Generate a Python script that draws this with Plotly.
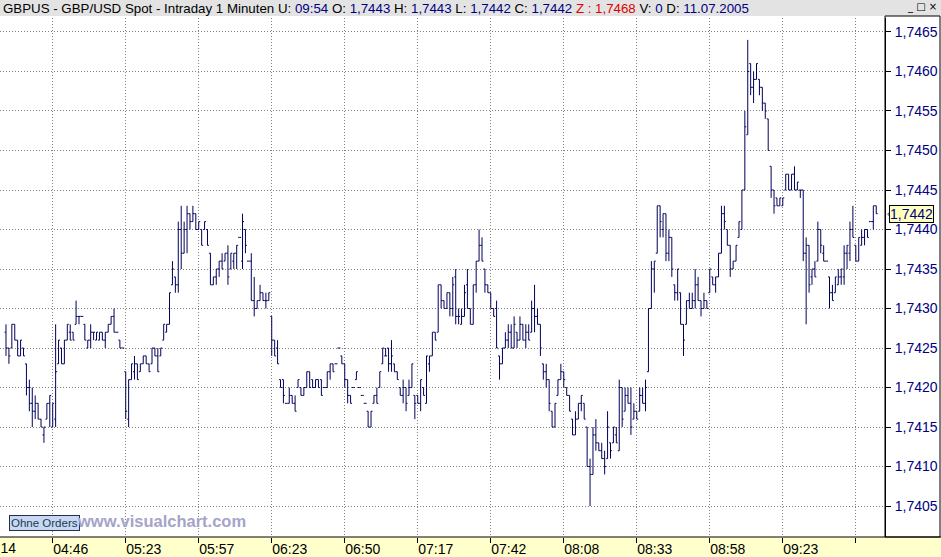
import plotly.graph_objects as go

# GBP/USD 1-minute bars, values read as pips above 1.7400
BASE = 1.7400

high_pips = [
    28, 25, 28, 28, 26, 26, 25, 23, 21, 20, 19, 18, 16, 15, 18, 19,
    18, 28, 26, 25, 26, 28, 28, 27, 31, 29, 29, 28, 26, 28, 27, 27, 27, 27, 27, 28, 29, 30, 27, 26, 25,
    22, 21, 23, 24, 23, 23, 24, 24, 23, 25, 25, 25, 25, 28, 28, 32, 36, 34, 41, 43, 41, 43, 42, 43, 42,
    41, 40, 41, 40, 37, 34, 35, 36, 37, 37, 38, 37, 37, 38, 39, 42, 40, 36, 37, 34, 31, 33, 32, 32, 32,
    29, 26, 26, 21, 21, 18, 20, 19, 19, 21, 20, 20, 22, 22, 21, 21, 21, 21, 20, 22, 23, 23, 23, 25, 24,
    23, 21, 19, 20, 22, 20, 19, 18, 17, 17, 19, 20, 22, 25, 25, 25, 26, 23, 22, 20, 21, 20, 21, 23, 19,
    19, 21, 20, 24, 24, 27, 27, 33, 33, 31, 32, 32, 34, 35, 30, 30, 33, 35, 30, 33, 36, 40, 39, 35, 33,
    32, 30, 31, 24, 25, 27, 28, 28, 29, 27, 29, 28, 28, 28, 31, 33, 30, 28, 23, 23, 21, 17, 18, 21, 23,
    22, 20, 19, 16, 17, 18, 19, 18, 15, 11, 15, 16, 13, 13, 12, 17, 13, 15, 15, 21, 20, 20, 20, 20, 18,
    17, 20, 20, 21, 30, 36, 36, 43, 43, 42, 42, 40, 39, 33, 35, 32, 28, 31, 32, 32, 35, 34, 31, 32, 31,
    35, 34, 34, 37, 43, 43, 40, 38, 36, 38, 41, 45, 55, 64, 61, 60, 61, 59, 58, 56, 54, 48, 45, 44, 44,
    44, 47, 47, 47, 48, 46, 45, 45, 39, 38, 35, 36, 41, 40, 38, 36, 34, 33, 34, 35, 35, 38, 38, 41, 43,
    38, 39, 40, 40, 40, 41, 43, 43,
]
low_pips = [
    24, 23, 25, 26, 24, 24, 24, 19, 17, 15, 16, 16, 15, 13, 16, 15,
    15, 15, 23, 23, 23, 26, 26, 26, 28, 28, 29, 26, 25, 25, 26, 26, 26, 26, 25, 27, 28, 27, 27, 25, 25,
    16, 15, 21, 21, 21, 22, 23, 23, 22, 23, 24, 22, 24, 26, 27, 28, 33, 32, 32, 35, 37, 37, 40, 41, 40,
    40, 38, 40, 38, 33, 33, 33, 34, 35, 36, 33, 35, 35, 35, 39, 35, 37, 36, 31, 29, 30, 31, 31, 30, 31,
    24, 24, 23, 20, 18, 18, 18, 18, 17, 20, 19, 19, 20, 20, 20, 20, 20, 19, 20, 20, 21, 22, 23, 25, 23,
    20, 18, 18, 20, 21, 20, 19, 18, 15, 15, 18, 18, 20, 23, 24, 22, 22, 22, 21, 19, 18, 17, 19, 20, 16,
    18, 17, 19, 18, 22, 24, 26, 27, 30, 30, 30, 29, 29, 28, 28, 28, 29, 30, 28, 28, 32, 36, 36, 32, 32,
    30, 29, 25, 21, 23, 25, 25, 25, 25, 25, 26, 26, 25, 26, 27, 27, 28, 24, 21, 20, 17, 15, 15, 19, 21,
    20, 19, 17, 14, 14, 16, 17, 16, 10, 5, 9, 12, 12, 11, 9, 11, 11, 13, 13, 12, 15, 17, 18, 14, 16,
    16, 17, 18, 17, 22, 30, 32, 37, 39, 39, 36, 36, 34, 31, 31, 28, 24, 28, 30, 30, 30, 31, 29, 30, 30,
    32, 33, 32, 34, 37, 40, 38, 34, 35, 36, 39, 40, 45, 52, 57, 56, 59, 57, 55, 54, 50, 44, 42, 43, 43,
    43, 45, 45, 45, 45, 45, 44, 36, 28, 32, 33, 34, 36, 37, 36, 36, 30, 31, 32, 33, 33, 33, 35, 36, 39,
    36, 36, 38, 38, 39, 41, 40, 42,
]
open_pips = [
    27, 25, 25, 28, 26, 24, 25, 23, 20, 18, 17, 18, 16, 14, 16, 18,
    15, 16, 23, 25, 23, 26, 27, 27, 28, 29, 29, 28, 25, 26, 27, 26, 26, 27, 26, 27, 28, 29, 27, 26, 25,
    22, 16, 21, 22, 23, 22, 23, 24, 23, 23, 25, 24, 24, 26, 27, 28, 33, 34, 33, 40, 37, 40, 42, 41, 42,
    40, 40, 40, 40, 37, 33, 34, 35, 36, 36, 37, 35, 36, 37, 39, 36, 40, 36, 36, 31, 30, 31, 32, 31, 31,
    29, 26, 25, 21, 21, 18, 18, 19, 18, 20, 20, 19, 20, 22, 21, 20, 21, 21, 20, 20, 22, 23, 23, 25, 24,
    23, 21, 19, 20, 21, 20, 19, 18, 17, 15, 18, 19, 20, 23, 24, 25, 23, 23, 22, 20, 19, 20, 19, 20, 19,
    19, 18, 20, 18, 23, 24, 27, 27, 33, 31, 30, 32, 30, 34, 29, 28, 29, 33, 30, 28, 33, 36, 38, 35, 33,
    32, 30, 30, 24, 23, 25, 26, 27, 25, 27, 26, 28, 26, 27, 27, 30, 29, 28, 23, 22, 21, 17, 15, 19, 21,
    22, 20, 19, 16, 14, 16, 18, 18, 15, 10, 9, 14, 13, 12, 11, 11, 13, 13, 14, 12, 20, 17, 19, 18, 16,
    17, 17, 19, 18, 22, 30, 35, 37, 43, 40, 42, 37, 39, 33, 32, 32, 28, 28, 31, 30, 31, 33, 31, 30, 31,
    32, 34, 33, 34, 37, 42, 40, 38, 35, 36, 39, 40, 45, 52, 61, 58, 59, 59, 58, 56, 54, 48, 45, 44, 43,
    43, 45, 47, 45, 47, 45, 45, 45, 37, 38, 34, 35, 36, 40, 37, 36, 34, 32, 32, 33, 34, 34, 37, 37, 40,
    38, 36, 38, 39, 40, 41, 41, 43,
]
close_pips = [
    25, 24, 28, 26, 24, 26, 24, 20, 18, 17, 18, 16, 15, 15, 18, 19,
    18, 22, 26, 23, 26, 28, 26, 26, 29, 29, 29, 26, 26, 27, 27, 27, 27, 26, 27, 28, 29, 27, 27, 25, 25,
    17, 21, 23, 23, 21, 23, 24, 23, 22, 25, 24, 22, 25, 28, 28, 32, 35, 33, 40, 37, 40, 42, 41, 42, 40,
    41, 38, 41, 38, 33, 34, 35, 36, 35, 37, 34, 37, 37, 38, 39, 41, 38, 36, 31, 30, 31, 32, 31, 31, 32,
    26, 24, 23, 20, 19, 18, 19, 18, 17, 21, 19, 20, 22, 20, 20, 21, 20, 19, 20, 22, 23, 22, 23, 25, 23,
    21, 19, 18, 20, 22, 20, 19, 18, 15, 17, 19, 18, 22, 25, 24, 23, 24, 22, 21, 19, 20, 18, 20, 23, 18,
    18, 21, 19, 24, 24, 27, 26, 33, 31, 30, 32, 30, 33, 29, 29, 29, 32, 30, 28, 33, 36, 38, 36, 33, 32,
    30, 29, 25, 23, 25, 26, 27, 25, 28, 26, 28, 26, 27, 26, 30, 29, 28, 25, 22, 21, 18, 15, 18, 21, 22,
    21, 19, 17, 14, 16, 18, 19, 16, 10, 9, 14, 13, 12, 11, 10, 15, 12, 15, 13, 20, 16, 19, 18, 15, 17,
    16, 19, 18, 20, 30, 35, 36, 43, 41, 42, 37, 39, 35, 32, 35, 28, 26, 31, 30, 31, 33, 31, 30, 31, 30,
    35, 33, 34, 37, 42, 41, 38, 35, 36, 38, 41, 45, 53, 60, 58, 59, 61, 58, 56, 55, 50, 45, 43, 43, 44,
    44, 47, 45, 47, 45, 46, 45, 37, 38, 33, 35, 34, 40, 38, 36, 36, 32, 31, 34, 34, 35, 37, 38, 40, 39,
    36, 39, 39, 40, 39, 41, 43, 42,
]

# x axis: bar number of each time gridline and its label
tick_bars = [17, 42, 67, 92, 117, 142, 167, 192, 217, 242, 267, 292]
tick_labels = ["04:46", "05:23", "05:57", "06:23", "06:50", "07:17",
               "07:42", "08:08", "08:33", "08:58", "09:23", ""]
first_tick_bar = -8
first_tick_label = "04:14"
last_price = 1.7442

bars = list(range(1, len(high_pips) + 1))
to_price = lambda p: [round(BASE + v / 10000, 4) for v in p]

W, H = 941, 557
PL, PR, PT, PB = 0, 885, 18, 537  # plot area in pixels
x_range = [-1.05, 302.0]
y_range = [1.740108, 1.746677]


def px(x):
    return (x - PL) / (PR - PL)


def py(y):
    return (PB - y) / (PB - PT)


navy = "#00005a"
font = "Liberation Sans, Arial, sans-serif"
blk = "#000000"

fig = go.Figure(go.Ohlc(
    x=bars,
    open=to_price(open_pips),
    high=to_price(high_pips),
    low=to_price(low_pips),
    close=to_price(close_pips),
    increasing=dict(line=dict(color=navy, width=1)),
    decreasing=dict(line=dict(color=navy, width=1)),
    tickwidth=0.5,
    hoverinfo="skip",
    showlegend=False,
))

# header and footer strips, price panel box
fig.add_shape(type="rect", xref="paper", yref="paper", x0=px(0), x1=px(W),
              y0=py(16), y1=py(0), fillcolor="#e3e3e3", line_width=0, layer="below")
fig.add_shape(type="rect", xref="paper", yref="paper", x0=px(0), x1=px(W),
              y0=py(H), y1=py(PB), fillcolor="#ffffcc", line_width=0, layer="below")
fig.add_shape(type="rect", xref="paper", yref="paper", x0=px(PR), x1=px(940),
              y0=py(PB), y1=py(16), line=dict(color="black", width=1), layer="above")
fig.add_shape(type="line", xref="paper", yref="paper", x0=px(0), x1=px(W),
              y0=py(PB), y1=py(PB), line=dict(color="black", width=1))

header = (
    "GBPUS - GBP/USD Spot - Intraday 1 Minuten U: <span style='color:#000080'>09:54</span> "
    "O: <span style='color:#000080'>1,7443</span> H: <span style='color:#000080'>1,7443</span> "
    "L: <span style='color:#000080'>1,7442</span> C: <span style='color:#000080'>1,7442</span> "
    "<span style='color:#e00000'>Z : 1,7468</span> V: <span style='color:#000080'>0</span> "
    "D: <span style='color:#000080'>11.07.2005</span>"
)
fig.add_annotation(text=header, xref="paper", yref="paper", x=px(1), y=py(8),
                   xanchor="left", yanchor="middle", showarrow=False,
                   font=dict(family=font, size=13.3, color=blk))
fig.add_annotation(text="_ □ ×", xref="paper", yref="paper", x=px(922), y=py(7),
                   xanchor="center", yanchor="middle", showarrow=False,
                   font=dict(family="DejaVu Sans", size=10, color=blk))

# first time label sits left of the visible range, only its end shows
first_x = (first_tick_bar - x_range[0]) / (x_range[1] - x_range[0])
fig.add_annotation(text=first_tick_label, xref="paper", yref="paper", x=first_x,
                   y=py(548), xanchor="left", yanchor="middle", showarrow=False,
                   xshift=-1, font=dict(family=font, size=14, color=blk))

fig.add_annotation(text="1,7442", xref="paper", yref="y", x=px(889), y=last_price,
                   xanchor="left", yanchor="middle", showarrow=False,
                   bgcolor="#ffffc0", bordercolor="black", borderwidth=1, borderpad=0,
                   font=dict(family=font, size=14, color="#000080"))
fig.add_annotation(text="‹", xref="paper", yref="y", x=px(885), y=last_price,
                   xanchor="left", yanchor="middle", showarrow=False,
                   font=dict(family=font, size=9, color="#000080"))

fig.add_annotation(text="Ohne Orders", xref="paper", yref="paper", x=px(9), y=py(523),
                   xanchor="left", yanchor="middle", showarrow=False,
                   bgcolor="#c8d8f0", bordercolor="#203050", borderwidth=1, borderpad=1,
                   font=dict(family=font, size=11.5, color="#1a3a5a"))
fig.add_annotation(text="<b>www.visualchart.com</b>", xref="paper", yref="paper",
                   x=px(75), y=py(521), xanchor="left", yanchor="middle", showarrow=False,
                   font=dict(family=font, size=16.5, color="#a4a4c8"))

fig.update_layout(
    width=W,
    height=H,
    margin=dict(l=PL, r=W - PR, t=PT, b=H - PB, pad=0, autoexpand=False),
    paper_bgcolor="white",
    plot_bgcolor="white",
    separators=",.",
    font=dict(family=font, size=14, color=blk),
    xaxis=dict(
        range=x_range,
        tickmode="array",
        tickvals=tick_bars,
        ticktext=tick_labels,
        ticks="outside",
        ticklen=5,
        tickcolor="black",
        ticklabelshift=18,
        ticklabelstandoff=-6,
        tickfont=dict(family=font, size=14, color=blk),
        showgrid=True,
        gridcolor="#808080",
        griddash="1px,2px",
        gridwidth=1,
        showline=False,
        zeroline=False,
        automargin=False,
        rangeslider=dict(visible=False),
        fixedrange=True,
    ),
    yaxis=dict(
        side="right",
        range=y_range,
        tick0=1.7405,
        dtick=0.0005,
        tickformat=".4f",
        ticks="outside",
        ticklen=5,
        tickcolor="black",
        ticklabelstandoff=1,
        tickfont=dict(family=font, size=14, color="#000080"),
        showgrid=True,
        gridcolor="#808080",
        griddash="1px,2px",
        gridwidth=1,
        showline=True,
        linecolor="black",
        zeroline=False,
        automargin=False,
        fixedrange=True,
    ),
)

# the page's default body margin would shift the chart by 8px
fig.write_html("out.html", config=dict(displayModeBar=False),
               post_script="document.body.style.margin='0';"
                           "document.body.style.overflow='hidden';")
